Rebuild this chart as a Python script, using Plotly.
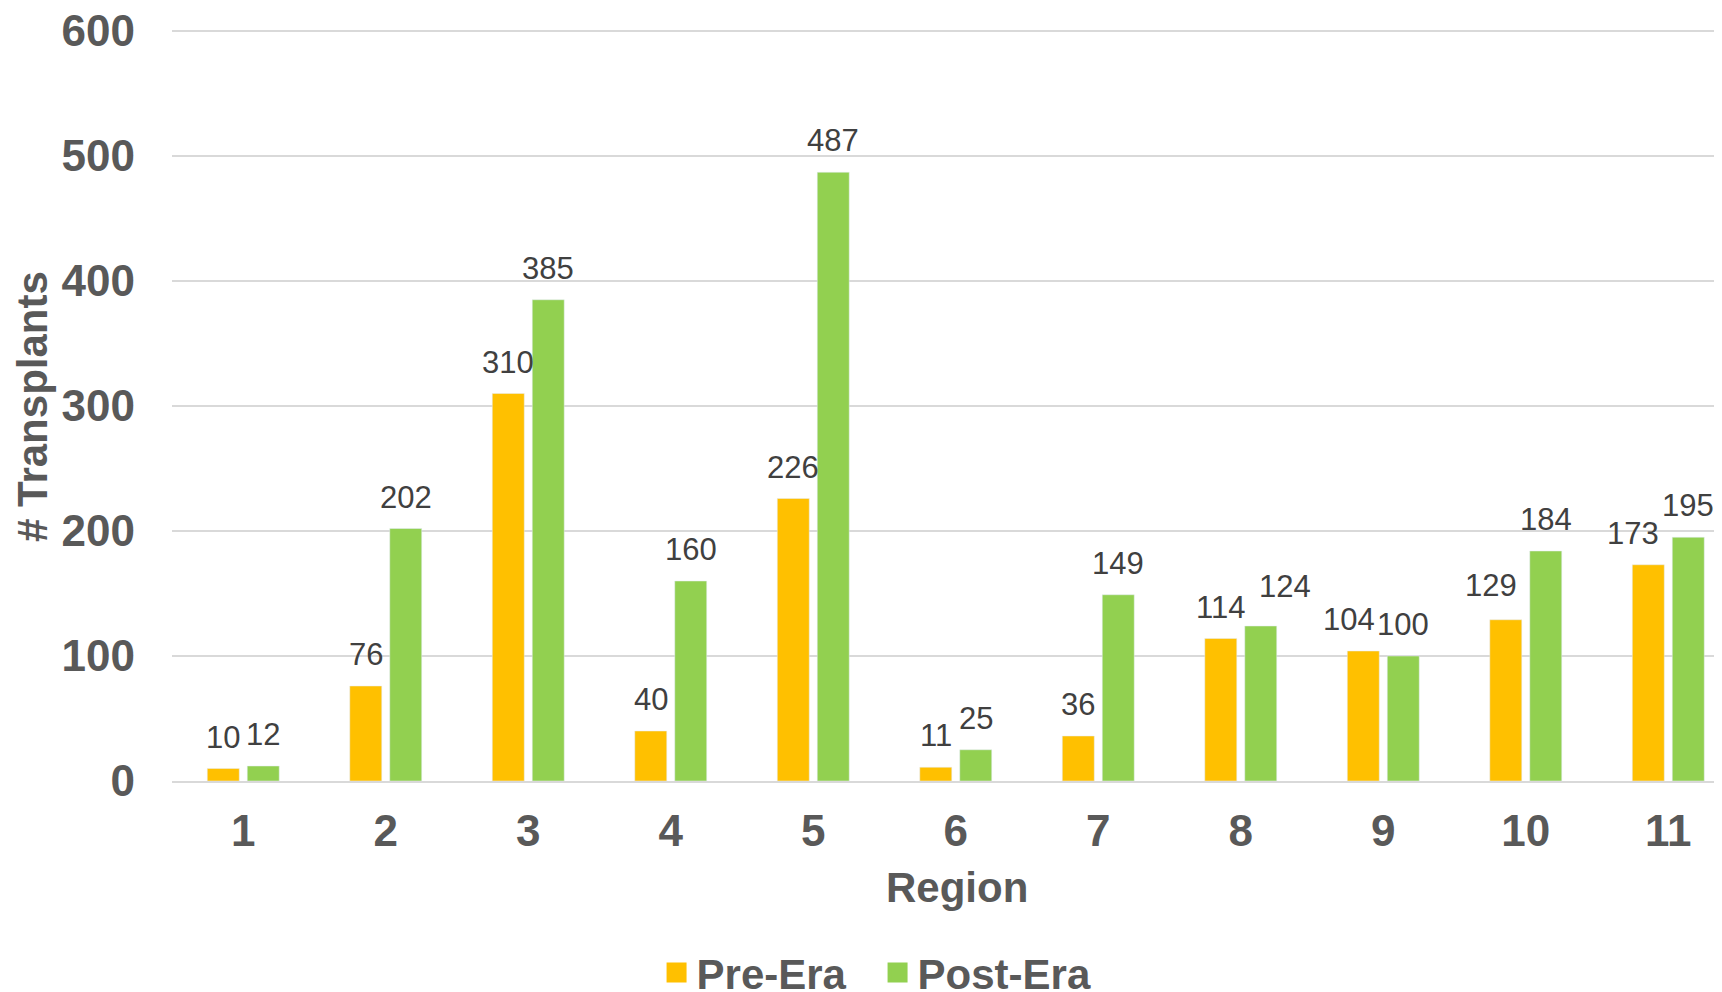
import plotly.graph_objects as go

regions = ["1", "2", "3", "4", "5", "6", "7", "8", "9", "10", "11"]
pre_era = [10, 76, 310, 40, 226, 11, 36, 114, 104, 129, 173]
post_era = [12, 202, 385, 160, 487, 25, 149, 124, 100, 184, 195]
y_ticks = [0, 100, 200, 300, 400, 500, 600]

# manual label nudges seen in the reference (series, region index) -> (dx px, dy px)
label_nudge = {("pre", 8): (-14, 0), ("pre", 9): (-15, 3), ("pre", 10): (-15, 0),
               ("post", 7): (24, 8)}

ORANGE = "#FFC000"
GREEN = "#92D050"
GREY = "#595959"
FONT = "Liberation Sans, Arial, sans-serif"

fig = go.Figure()
fig.add_trace(go.Bar(x=regions, y=pre_era, name="Pre-Era", marker_color=ORANGE,
                     showlegend=False))
fig.add_trace(go.Bar(x=regions, y=post_era, name="Post-Era", marker_color=GREEN,
                     showlegend=False))
# legend entries
fig.add_trace(go.Scatter(x=[None], y=[None], mode="markers", name="Pre-Era",
                         marker=dict(symbol="square", size=16, color=ORANGE,
                                     line=dict(color=ORANGE, width=4))))
fig.add_trace(go.Scatter(x=[None], y=[None], mode="markers", name="Post-Era",
                         marker=dict(symbol="square", size=16, color=GREEN,
                                     line=dict(color=GREEN, width=4))))

annotations = []
for key, vals, shift in (("pre", pre_era, -20), ("post", post_era, 20)):
    for i, v in enumerate(vals):
        dx, dy = label_nudge.get((key, i), (0, 0))
        annotations.append(dict(x=i, y=v, xref="x", yref="y", text=str(v),
                                showarrow=False, xshift=shift + dx, yshift=12 + dy,
                                yanchor="bottom",
                                font=dict(family=FONT, size=31, color="#404040")))

annotations.append(dict(x=0.5065, y=-0.1404, xref="paper", yref="paper",
                        text="<b>Region</b>", showarrow=False,
                        xanchor="center", yanchor="middle",
                        font=dict(family=FONT, size=42, color=GREY)))
annotations.append(dict(x=-0.0897, y=0.4967, xref="paper", yref="paper",
                        text="<b># Transplants</b>", showarrow=False, textangle=-90,
                        xanchor="center", yanchor="middle",
                        font=dict(family=FONT, size=42, color=GREY)))

fig.update_layout(
    width=1714, height=984,
    margin=dict(l=164, r=0, t=18, b=211, autoexpand=False),
    paper_bgcolor="white", plot_bgcolor="white",
    barmode="group", bargap=0.439, bargroupgap=0.2,
    font=dict(family=FONT, color=GREY),
    annotations=annotations,
    legend=dict(orientation="h", x=0.4552, y=-0.254, xanchor="center", yanchor="middle",
                font=dict(family=FONT, size=42, color=GREY, weight="bold"),
                itemsizing="trace", itemwidth=30, entrywidth=176, entrywidthmode="pixels",
                bgcolor="rgba(0,0,0,0)"),
    xaxis=dict(type="category", range=[-0.5, 10.377], showgrid=False,
               showline=True, linecolor="#D9D9D9", linewidth=2, ticks="",
               tickfont=dict(family=FONT, size=44, color=GREY, weight="bold"),
               ticklabelstandoff=10, zeroline=False),
    yaxis=dict(range=[0, 604], tickvals=y_ticks, showgrid=True, gridcolor="#D9D9D9",
               gridwidth=2, zeroline=False, showline=False, ticks="",
               tickfont=dict(family=FONT, size=44, color=GREY, weight="bold"),
               ticklabelstandoff=36, ticklabeloverflow="allow"),
)

fig.write_html("out.html")
